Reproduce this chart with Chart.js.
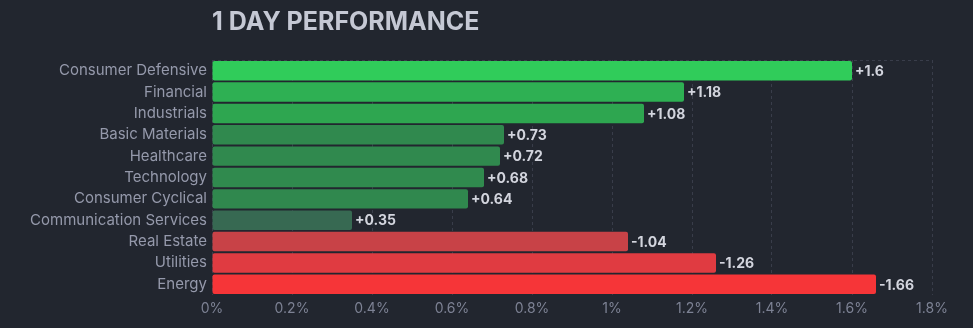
<!DOCTYPE html>
<html>
<head>
<meta charset="utf-8">
<script src="https://cdn.jsdelivr.net/npm/chart.js@4/dist/chart.umd.min.js"></script>
<style>
html,body{margin:0;padding:0;background:#22262f;}
#wrap{position:relative;width:973px;height:328px;}
</style>
</head>
<body>
<div id="wrap"><canvas id="c" width="973" height="328"></canvas></div>
<script>
const categories = ["Consumer Defensive","Financial","Industrials","Basic Materials","Healthcare","Technology","Consumer Cyclical","Communication Services","Real Estate","Utilities","Energy"];
const changes = [1.6, 1.18, 1.08, 0.73, 0.72, 0.68, 0.64, 0.35, -1.04, -1.26, -1.66];
const barColors = ["#30cc5a","#2eb053","#2ea650","#30894e","#30894e","#308a4e","#30884e","#376952","#c84247","#e03b41","#f63538"];
const xTicks = [0, 0.2, 0.4, 0.6, 0.8, 1, 1.2, 1.4, 1.6, 1.8];
const titleText = "1 DAY PERFORMANCE";

const FONT = "Inter, 'Noto Sans', sans-serif";

const titlePlugin = {
  id: 'titleP',
  afterDraw(chart) {
    const ctx = chart.ctx;
    ctx.save();
    ctx.font = "bold 25px " + FONT;
    ctx.fillStyle = "#c5c8d4";
    ctx.textBaseline = "middle";
    ctx.textAlign = "left";
    ctx.fillText(titleText, chart.chartArea.left, 22);
    ctx.restore();
  }
};

const labelPlugin = {
  id: 'valLabels',
  afterDatasetsDraw(chart) {
    const ctx = chart.ctx;
    const meta = chart.getDatasetMeta(0);
    ctx.save();
    ctx.font = "bold 14px " + FONT;
    ctx.fillStyle = "#d3d5de";
    ctx.textBaseline = "middle";
    ctx.textAlign = "left";
    meta.data.forEach((bar, i) => {
      const v = changes[i];
      const t = (v > 0 ? "+" : "") + v;
      ctx.fillText(t, bar.x + 3, bar.y + 1);
    });
    ctx.restore();
  }
};

new Chart(document.getElementById('c'), {
  type: 'bar',
  data: {
    labels: categories,
    datasets: [{
      data: changes.map(v => Math.abs(v)),
      backgroundColor: barColors,
      borderRadius: 2,
      borderSkipped: false,
      barPercentage: 0.91,
      categoryPercentage: 1
    }]
  },
  options: {
    indexAxis: 'y',
    responsive: false,
    animation: false,
    layout: { padding: { top: 60, right: 41, left: 0, bottom: 0 } },
    plugins: { legend: { display: false }, tooltip: { enabled: false } },
    scales: {
      x: {
        min: 0, max: 1.8,
        afterBuildTicks(scale) { scale.ticks = xTicks.map(v => ({ value: v })); },
        afterFit(scale) { scale.height = 33; },
        ticks: {
          color: "#7d8294",
          font: { family: FONT, size: 14 },
          padding: 5,
          callback: v => (+v.toFixed(1)) + "%"
        },
        grid: { color: "#393d4a", lineWidth: 1, drawTicks: false },
        border: { display: false, dash: [3, 3] }
      },
      y: {
        afterFit(scale) { scale.width = 212; },
        ticks: {
          color: "#9599ab",
          font: { family: FONT, size: 15 },
          padding: 5
        },
        grid: {
          offset: true,
          drawTicks: false,
          color: ctx => (ctx.index === 0 || ctx.index === categories.length) ? "#393d4a" : "rgba(0,0,0,0)"
        },
        border: { display: false, dash: [3, 3] }
      }
    }
  },
  plugins: [titlePlugin, labelPlugin]
});
</script>
</body>
</html>
